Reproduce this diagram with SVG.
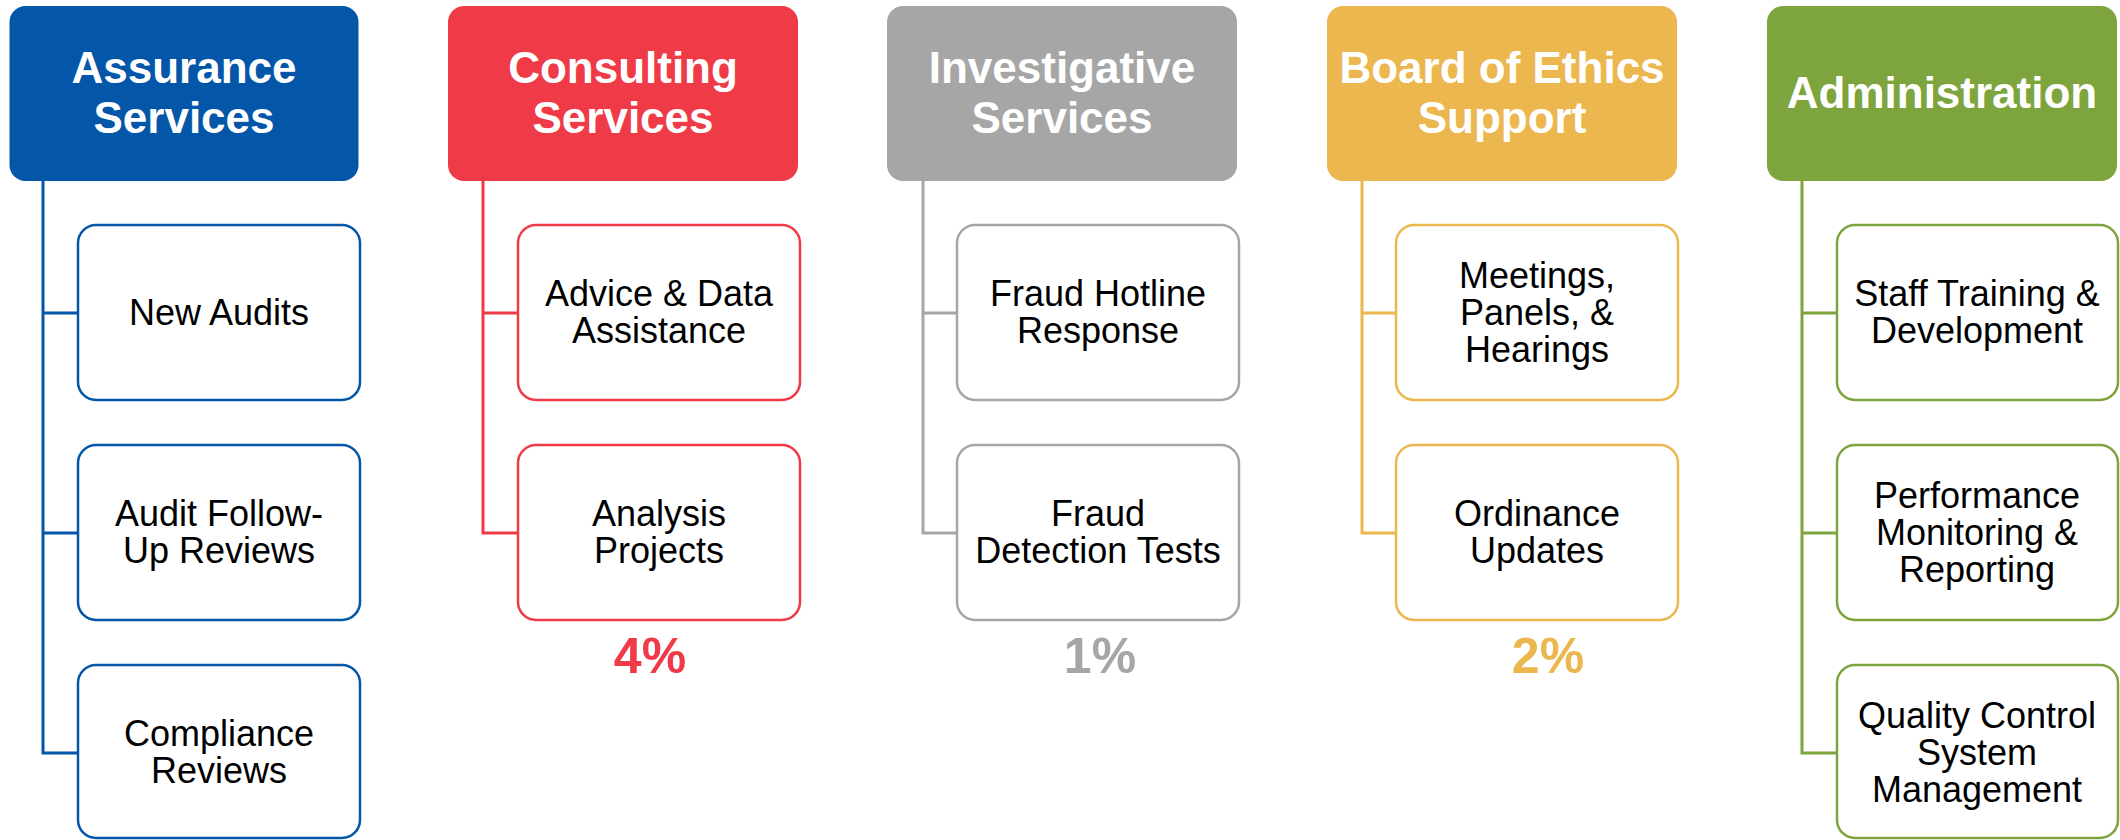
<svg xmlns="http://www.w3.org/2000/svg" width="2120" height="840" viewBox="0 0 2120 840">
<style>
.hd{font-family:"Liberation Sans",Arial,sans-serif;font-weight:bold;font-size:44px;fill:#fff;text-anchor:middle}
.ct{font-family:"Liberation Sans",Arial,sans-serif;font-size:36px;fill:#000;text-anchor:middle}
.pc{font-family:"Liberation Sans",Arial,sans-serif;font-weight:bold;font-size:50px;text-anchor:middle}
.box{fill:#fff;stroke-width:2.5}
.ln{fill:none;stroke-width:3}
.blue{fill:#0356a8}.blueS{stroke:#0356a8}
.red{fill:#ef3b47}.redS{stroke:#ef3b47}
.gray{fill:#a6a6a6}.grayS{stroke:#a6a6a6}
.gold{fill:#ebb74e}.goldS{stroke:#ebb74e}
.green{fill:#7ea43d}.greenS{stroke:#7ea43d}
</style>
<rect width="2120" height="840" fill="#fff"/>
<g id="connectors">
<path class="ln blueS" d="M43,180 V753 H78 M43,313 H78 M43,533 H78"/>
<path class="ln redS" d="M483,180 V533 H518 M483,313 H518"/>
<path class="ln grayS" d="M923,180 V533 H957 M923,313 H957"/>
<path class="ln goldS" d="M1362,180 V533 H1396 M1362,313 H1396"/>
<path class="ln greenS" d="M1802,180 V753 H1837 M1802,313 H1837 M1802,533 H1837"/>
</g>
<g id="assurance">
<rect class="blue" x="9.5" y="6" width="349" height="175" rx="16"/>
<text class="hd" x="184" y="83">Assurance</text>
<text class="hd" x="184" y="133">Services</text>
</g>
<g id="new-audits"><rect class="box blueS" x="78" y="225" width="282" height="175" rx="18"/><text class="ct" x="219" y="325">New Audits</text></g>
<g id="audit-follow-up"><rect class="box blueS" x="78" y="445" width="282" height="175" rx="18"/><text class="ct" x="219" y="526">Audit Follow-</text><text class="ct" x="219" y="563">Up Reviews</text></g>
<g id="compliance"><rect class="box blueS" x="78" y="665" width="282" height="173" rx="18"/><text class="ct" x="219" y="746">Compliance</text><text class="ct" x="219" y="783">Reviews</text></g>

<g id="consulting">
<rect class="red" x="448" y="6" width="350" height="175" rx="16"/>
<text class="hd" x="623" y="83">Consulting</text>
<text class="hd" x="623" y="133">Services</text>
</g>
<g id="advice"><rect class="box redS" x="518" y="225" width="282" height="175" rx="18"/><text class="ct" x="659" y="306">Advice &amp; Data</text><text class="ct" x="659" y="343">Assistance</text></g>
<g id="analysis"><rect class="box redS" x="518" y="445" width="282" height="175" rx="18"/><text class="ct" x="659" y="526">Analysis</text><text class="ct" x="659" y="563">Projects</text></g>
<text class="pc red" x="650" y="673">4%</text>

<g id="investigative">
<rect class="gray" x="887" y="6" width="350" height="175" rx="16"/>
<text class="hd" x="1062" y="83">Investigative</text>
<text class="hd" x="1062" y="133">Services</text>
</g>
<g id="fraud-hotline"><rect class="box grayS" x="957" y="225" width="282" height="175" rx="18"/><text class="ct" x="1098" y="306">Fraud Hotline</text><text class="ct" x="1098" y="343">Response</text></g>
<g id="fraud-detection"><rect class="box grayS" x="957" y="445" width="282" height="175" rx="18"/><text class="ct" x="1098" y="526">Fraud</text><text class="ct" x="1098" y="563">Detection Tests</text></g>
<text class="pc gray" x="1100" y="673">1%</text>

<g id="ethics">
<rect class="gold" x="1327" y="6" width="350" height="175" rx="16"/>
<text class="hd" x="1502" y="83">Board of Ethics</text>
<text class="hd" x="1502" y="133">Support</text>
</g>
<g id="meetings"><rect class="box goldS" x="1396" y="225" width="282" height="175" rx="18"/><text class="ct" x="1537" y="288">Meetings,</text><text class="ct" x="1537" y="325">Panels, &amp;</text><text class="ct" x="1537" y="362">Hearings</text></g>
<g id="ordinance"><rect class="box goldS" x="1396" y="445" width="282" height="175" rx="18"/><text class="ct" x="1537" y="526">Ordinance</text><text class="ct" x="1537" y="563">Updates</text></g>
<text class="pc gold" x="1548" y="673">2%</text>

<g id="administration">
<rect class="green" x="1767" y="6" width="350" height="175" rx="16"/>
<text class="hd" x="1942" y="108">Administration</text>
</g>
<g id="staff-training"><rect class="box greenS" x="1837" y="225" width="281" height="175" rx="18"/><text class="ct" x="1977" y="306">Staff Training &amp;</text><text class="ct" x="1977" y="343">Development</text></g>
<g id="performance"><rect class="box greenS" x="1837" y="445" width="281" height="175" rx="18"/><text class="ct" x="1977" y="508">Performance</text><text class="ct" x="1977" y="545">Monitoring &amp;</text><text class="ct" x="1977" y="582">Reporting</text></g>
<g id="quality-control"><rect class="box greenS" x="1837" y="665" width="281" height="173" rx="18"/><text class="ct" x="1977" y="728">Quality Control</text><text class="ct" x="1977" y="765">System</text><text class="ct" x="1977" y="802">Management</text></g>
</svg>
